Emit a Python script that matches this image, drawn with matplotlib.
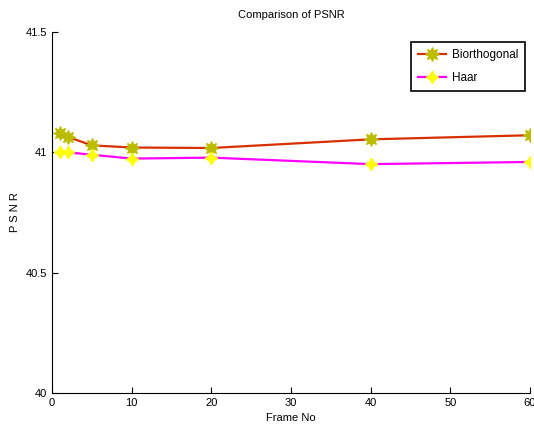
import matplotlib
matplotlib.use("Agg")
import matplotlib.pyplot as plt

# Кадры и значения PSNR для двух вейвлетов
frames = [1, 2, 5, 10, 20, 40, 60]
psnr_bior = [41.080, 41.064, 41.029, 41.020, 41.018, 41.054, 41.071]
psnr_haar = [41.000, 41.000, 40.990, 40.974, 40.978, 40.951, 40.960]

plt.rcParams['font.family'] = ['Liberation Sans Narrow', 'Liberation Sans', 'DejaVu Sans']
plt.rcParams['font.size'] = 8

fig = plt.figure(figsize=(5.34, 4.33), dpi=100)
ax = fig.add_axes([52 / 534, 1 - 393 / 433, 478 / 534, 361 / 433])

ax.plot(frames, psnr_bior, color='#d83000', linewidth=1.6,
        marker=(8, 1, 0), markersize=10, markerfacecolor='#bcbc00',
        markeredgecolor='#bcbc00', label='Biorthogonal')
ax.plot(frames, psnr_haar, color='#ff00ff', linewidth=1.6,
        marker=(4, 1, 0), markersize=9, markerfacecolor='#ffff00',
        markeredgecolor='#ffff00', label='Haar')

ax.set_xlim(0, 60)
ax.set_ylim(40, 41.5)
ax.set_xticks([0, 10, 20, 30, 40, 50, 60])
ax.set_yticks([40, 40.5, 41, 41.5])
ax.set_yticklabels(['40', '40.5', '41', '41.5'])
ax.tick_params(direction='in', length=4, width=0.8)

# Только левая и нижняя оси
ax.spines['top'].set_visible(False)
ax.spines['right'].set_visible(False)

ax.set_title('Comparison of PSNR', fontsize=8, pad=10)
ax.set_xlabel('Frame No', fontsize=8)
ax.set_ylabel('P S N R', fontsize=8)

leg = ax.legend(loc='upper right', fontsize=8.5, fancybox=False,
                edgecolor='black', framealpha=1, borderaxespad=0.4,
                handlelength=2.4, handletextpad=0.5, labelspacing=0.9,
                borderpad=0.6, bbox_to_anchor=(1.0, 0.985))
leg.get_frame().set_linewidth(1.2)

fig.savefig('out.png', dpi=100)
